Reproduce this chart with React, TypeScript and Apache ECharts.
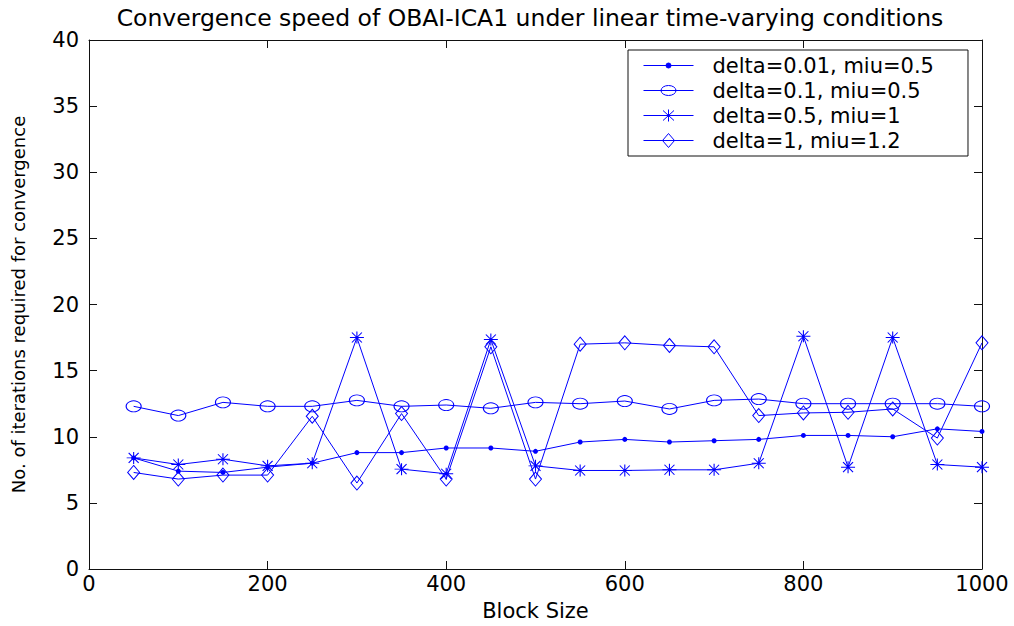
import React, { useEffect, useRef } from 'react';
import * as echarts from 'echarts';

const TITLE = 'Convergence speed of OBAI-ICA1 under linear time-varying conditions';
const X_NAME = 'Block Size';
const Y_NAME = 'No. of iterations required for convergence';

const blockSizes = [50, 100, 150, 200, 250, 300, 350, 400, 450, 500, 550, 600, 650, 700, 750, 800, 850, 900, 950, 1000];

const seriesNames = [
  'delta=0.01, miu=0.5',
  'delta=0.1, miu=0.5',
  'delta=0.5, miu=1',
  'delta=1, miu=1.2',
];

const dotValues = [8.4, 7.4, 7.3, 7.7, 8.0, 8.8, 8.8, 9.15, 9.15, 8.9, 9.6, 9.8, 9.6, 9.7, 9.8, 10.1, 10.1, 10.0, 10.6, 10.4];
const circleValues = [12.3, 11.6, 12.6, 12.3, 12.3, 12.75, 12.3, 12.4, 12.15, 12.6, 12.5, 12.7, 12.1, 12.75, 12.85, 12.5, 12.5, 12.5, 12.5, 12.3];
const starValues = [8.4, 7.9, 8.3, 7.8, 8.0, 17.5, 7.55, 7.2, 17.35, 7.8, 7.45, 7.45, 7.5, 7.5, 8.0, 17.6, 7.7, 17.5, 7.9, 7.7];
const diamondValues = [7.3, 6.8, 7.1, 7.1, 11.55, 6.5, 11.75, 6.8, 16.8, 6.8, 17.0, 17.1, 16.9, 16.8, 11.6, 11.8, 11.85, 12.1, 9.9, 17.1];

const xMin = 0;
const xMax = 1000;
const xInterval = 200;
const yMin = 0;
const yMax = 40;
const yInterval = 5;

const BLUE = '#0000ff';
const AXIS = '#111111';
const FONT = "'DejaVu Sans', 'Liberation Sans', sans-serif";

const STAR_PATH = 'path://M0,6L14,6M7,0L7,12M2,1L12,11M12,1L2,11';

// Legend icons (50 x 20 box): line + marker
const BOUNDS = 'M0,0M50,20';
const LEG_DOT = 'path://' + BOUNDS + 'M0,10L50,10M27.5,10A2.5,2.5,0,1,1,22.5,10A2.5,2.5,0,1,1,27.5,10Z';
const LEG_CIRCLE = 'path://' + BOUNDS + 'M0,10L50,10M32.5,10A7.5,5,0,1,1,17.5,10A7.5,5,0,1,1,32.5,10Z';
const LEG_STAR = 'path://' + BOUNDS + 'M0,10L50,10M25,4L25,16M19.5,5L30.5,15M30.5,5L19.5,15';
const LEG_DIAMOND = 'path://' + BOUNDS + 'M0,10L50,10M25,3L31,10L25,17L19,10Z';

function pairs(values: number[]) {
  return blockSizes.map((x, i) => [x, values[i]]);
}

export default function App() {
  const ref = useRef<HTMLDivElement>(null);

  useEffect(() => {
    if (!ref.current) return;
    const chart = echarts.init(ref.current, undefined, { renderer: 'svg' });

    const axisLine = { show: true, onZero: false, lineStyle: { color: AXIS, width: 1 } };
    const axisTick = { show: true, inside: true, length: 8, lineStyle: { color: AXIS, width: 1 } };
    const labelStyle = {
      fontFamily: FONT,
      fontSize: 21,
      color: '#000',
      formatter: (v: number) => String(v),
    };

    const baseSeries = {
      type: 'line' as const,
      silent: true,
      emphasis: { disabled: true },
      lineStyle: { color: BLUE, width: 1 },
    };

    chart.setOption({
      animation: false,
      backgroundColor: '#ffffff',
      title: {
        text: TITLE,
        left: 530,
        top: 6,
        padding: 0,
        textAlign: 'center',
        textStyle: { fontFamily: FONT, fontSize: 23.5, fontWeight: 'normal', color: '#000' },
      },
      legend: {
        orient: 'vertical',
        left: 628,
        top: 50,
        padding: [5, 34, 5, 15],
        itemWidth: 50,
        itemHeight: 20,
        itemGap: 4,
        selectedMode: false,
        backgroundColor: '#ffffff',
        borderColor: AXIS,
        borderWidth: 1,
        borderRadius: 0,
        textStyle: { fontFamily: FONT, fontSize: 21, lineHeight: 20, color: '#000', padding: [0, 0, 0, 14] },
        data: [
          { name: seriesNames[0], icon: LEG_DOT, itemStyle: { color: BLUE, borderColor: BLUE, borderWidth: 1 } },
          { name: seriesNames[1], icon: LEG_CIRCLE, itemStyle: { color: 'rgba(0,0,0,0)', borderColor: BLUE, borderWidth: 1 } },
          { name: seriesNames[2], icon: LEG_STAR, itemStyle: { color: 'rgba(0,0,0,0)', borderColor: BLUE, borderWidth: 1 } },
          { name: seriesNames[3], icon: LEG_DIAMOND, itemStyle: { color: 'rgba(0,0,0,0)', borderColor: BLUE, borderWidth: 1 } },
        ],
      },
      grid: { left: 89, right: 32, top: 40, bottom: 57 },
      xAxis: [
        {
          type: 'value',
          position: 'bottom',
          min: xMin,
          max: xMax,
          interval: xInterval,
          axisLine,
          axisTick,
          splitLine: { show: false },
          axisLabel: { ...labelStyle, margin: 4 },
          name: X_NAME,
          nameLocation: 'middle',
          nameGap: 31,
          nameTextStyle: { fontFamily: FONT, fontSize: 21, color: '#000' },
        },
        {
          type: 'value',
          position: 'top',
          min: xMin,
          max: xMax,
          interval: xInterval,
          axisLine,
          axisTick,
          splitLine: { show: false },
          axisLabel: { show: false },
        },
      ],
      yAxis: [
        {
          type: 'value',
          position: 'left',
          min: yMin,
          max: yMax,
          interval: yInterval,
          axisLine,
          axisTick,
          splitLine: { show: false },
          axisLabel: { ...labelStyle, margin: 10 },
          name: Y_NAME,
          nameLocation: 'middle',
          nameGap: 62,
          nameTextStyle: { fontFamily: FONT, fontSize: 18, color: '#000' },
        },
        {
          type: 'value',
          position: 'right',
          min: yMin,
          max: yMax,
          interval: yInterval,
          axisLine,
          axisTick,
          splitLine: { show: false },
          axisLabel: { show: false },
        },
      ],
      series: [
        {
          ...baseSeries,
          name: seriesNames[0],
          data: pairs(dotValues),
          symbol: 'circle',
          symbolSize: 5,
          itemStyle: { color: BLUE, borderColor: BLUE, borderWidth: 0 },
        },
        {
          ...baseSeries,
          name: seriesNames[1],
          data: pairs(circleValues),
          symbol: 'circle',
          symbolSize: [15, 11],
          itemStyle: { color: 'rgba(0,0,0,0)', borderColor: BLUE, borderWidth: 1 },
        },
        {
          ...baseSeries,
          name: seriesNames[2],
          data: pairs(starValues),
          symbol: STAR_PATH,
          symbolSize: [14, 12],
          itemStyle: { color: 'rgba(0,0,0,0)', borderColor: BLUE, borderWidth: 1 },
        },
        {
          ...baseSeries,
          name: seriesNames[3],
          data: pairs(diamondValues),
          symbol: 'diamond',
          symbolSize: [12, 14],
          itemStyle: { color: 'rgba(0,0,0,0)', borderColor: BLUE, borderWidth: 1 },
        },
      ],
    });

    return () => {
      chart.dispose();
    };
  }, []);

  return (
    <div
      ref={ref}
      style={{ position: 'fixed', left: 0, top: 0, width: 1014, height: 626, background: '#fff' }}
    />
  );
}
